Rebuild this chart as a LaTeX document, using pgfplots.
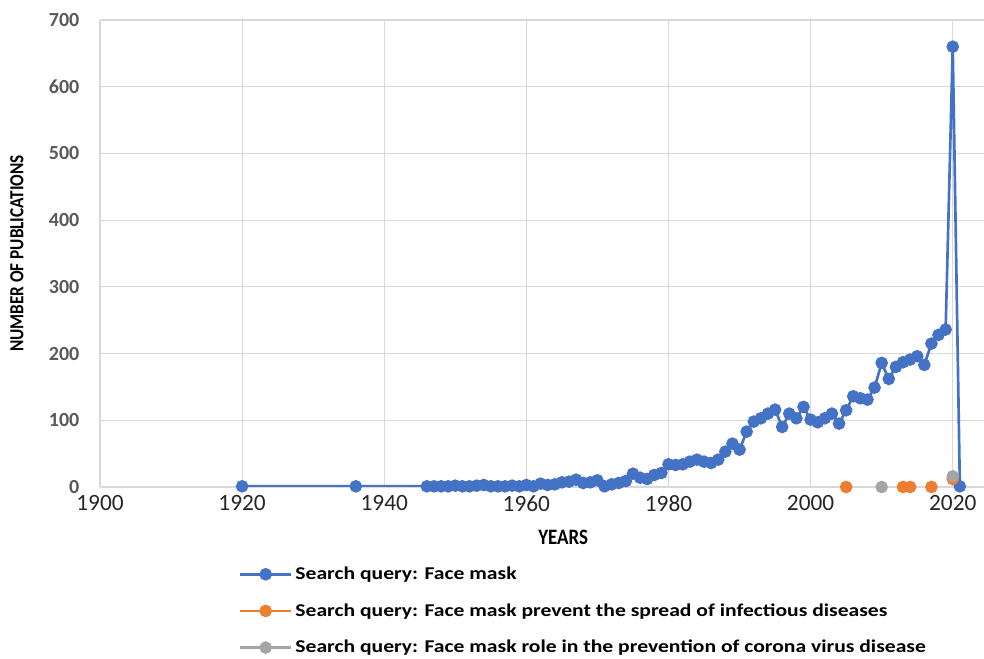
\documentclass[border=0pt]{standalone}
\usepackage{pgfplots}
\pgfplotsset{compat=1.18}
\usepackage{fontspec}
\setmainfont{Carlito}
\newfontfamily\widefont[FakeStretch=1.2]{Carlito}
\newfontfamily\narrowfont[FakeStretch=0.86]{Carlito}
\definecolor{xblue}{HTML}{4472C4}
\definecolor{xorange}{HTML}{ED7D31}
\definecolor{xgray}{HTML}{A5A5A5}
\definecolor{gridc}{HTML}{D9D9D9}
\definecolor{tickc}{HTML}{595959}
\begin{document}
\begin{tikzpicture}
\begin{axis}[
  name=ax,
  scale only axis,
  width=663pt, height=350.25pt,
  xmin=1900, xmax=2024.4,
  ymin=0, ymax=700,
  xtick={1900,1920,...,2020},
  ytick={0,100,...,700},
  grid=major,
  major grid style={draw=gridc, line width=0.9pt},
  axis x line=bottom, axis y line=left,
  axis line style={draw=gridc, line width=0.9pt, -},
  major tick length=0pt,
  /pgf/number format/assume math mode=true,
  /pgf/number format/1000 sep={},
  xticklabel style={font=\fontsize{17.5}{20}\selectfont, text=black!85, yshift=-3pt},
  yticklabel style={font=\bfseries\fontsize{15}{18}\selectfont, text=tickc, xshift=-12pt},
  xlabel={\textbf{YEARS}},
  xlabel style={font=\narrowfont\bfseries\fontsize{16.5}{18}\selectfont, at={(axis description cs:0.524,-0.107)}, anchor=center},
  ylabel={\textbf{NUMBER OF PUBLICATIONS}},
  ylabel style={font=\narrowfont\bfseries\fontsize{15}{16}\selectfont, at={(axis description cs:-0.094,0.5)}, anchor=center},
  unbounded coords=jump,
  legend style={draw=none, fill=none, at={(axis description cs:0.156,-0.165)}, anchor=north west,
    font=\widefont\bfseries\fontsize{13.5}{16}\selectfont, row sep=12.5pt, inner sep=0pt},
  legend cell align=left,
  legend image code/.code={\draw[mark repeat=2, mark phase=2] plot coordinates {(0cm,0cm) (0.69cm,0cm) (1.37cm,0cm)};},
]
\addplot[color=xblue, line width=2pt, mark=*, mark size=3.7pt, mark options={solid}] coordinates {
(1920,1) (1936,1) (1946,1) (1947,1) (1948,1) (1949,1) (1950,2) (1951,1) (1952,1) (1953,2)
(1954,3) (1955,1) (1956,1) (1957,1) (1958,2) (1959,1) (1960,3) (1961,1) (1962,5) (1963,3)
(1964,4) (1965,7) (1966,8) (1967,11) (1968,6) (1969,7) (1970,10) (1971,1) (1972,4) (1973,6)
(1974,9) (1975,20) (1976,14) (1977,12) (1978,18) (1979,21) (1980,34) (1981,33) (1982,34) (1983,38)
(1984,41) (1985,38) (1986,36) (1987,41) (1988,53) (1989,65) (1990,56) (1991,83) (1992,98) (1993,103)
(1994,110) (1995,116) (1996,90) (1997,110) (1998,103) (1999,120) (2000,101) (2001,97) (2002,103) (2003,110)
(2004,95) (2005,115) (2006,136) (2007,133) (2008,131) (2009,149) (2010,186) (2011,162) (2012,180) (2013,187)
(2014,191) (2015,196) (2016,183) (2017,215) (2018,228) (2019,236) (2020,660) (2021,1)
};
\addlegendentry{Search query: Face mask}
\addplot[color=xorange, line width=2pt, mark=*, mark size=3.7pt] coordinates {
(2005,0) (2006,nan) (2013,0) (2014,0) (2015,nan) (2017,0) (2018,nan) (2020,12)
};
\addlegendentry{Search query: Face mask prevent the spread of infectious diseases}
\addplot[color=xgray, line width=2pt, mark=*, mark size=3.7pt] coordinates {
(2010,0) (2011,nan) (2020,16)
};
\addlegendentry{Search query: Face mask role in the prevention of corona virus disease}
\end{axis}
\pgfresetboundingbox
\path[use as bounding box] ([xshift=-75pt,yshift=-129pt]ax.south west) rectangle ([yshift=15pt]ax.north east);
\end{tikzpicture}
\end{document}
